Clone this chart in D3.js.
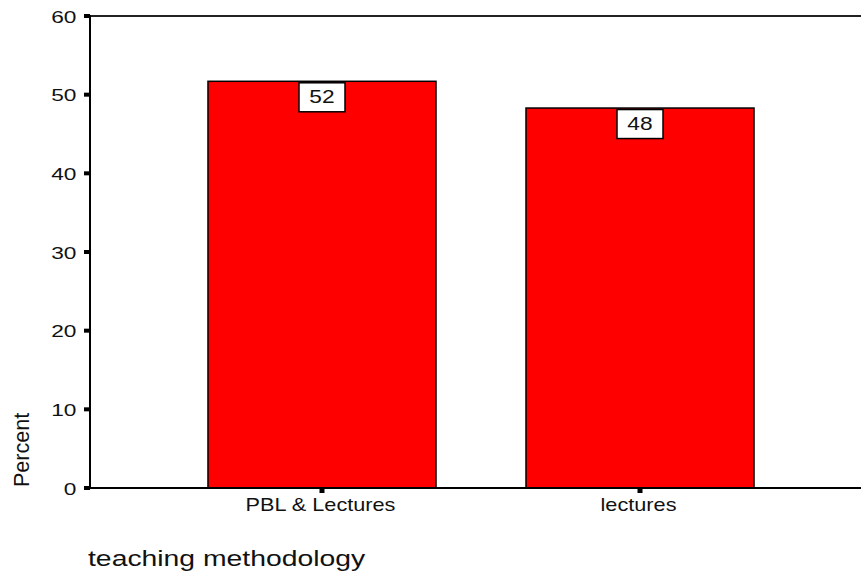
<!DOCTYPE html>
<html>
<head>
<meta charset="utf-8">
<script src="https://cdn.jsdelivr.net/npm/d3@7"></script>
<style>
  html, body { margin: 0; padding: 0; background: #fff; }
  svg { display: block; font-family: "Liberation Sans", Arial, sans-serif; }
</style>
</head>
<body>
<svg id="chart" width="861" height="573"></svg>
<script>
const categories = ["PBL & Lectures", "lectures"];
const percents = [51.7, 48.3];
const valueLabels = ["52", "48"];
const yTicks = [0, 10, 20, 30, 40, 50, 60];
const xTitle = "teaching methodology";
const yTitle = "Percent";

const svg = d3.select("#chart");
const mLeft = 90, mTop = 16, mBottom = 488, mRight = 872;

const y = d3.scaleLinear().domain([0, 60]).range([mBottom, mTop]);
const x = d3.scaleBand().domain(categories).range([mLeft, mRight])
  .paddingInner(0.283).paddingOuter(0.371);

// Top frame line
svg.append("line").attr("x1", mLeft).attr("x2", mRight).attr("y1", mTop).attr("y2", mTop)
  .attr("stroke", "#222").attr("stroke-width", 2);

// Bars
svg.selectAll("rect.bar").data(percents).enter().append("rect")
  .attr("class", "bar")
  .attr("x", (d, i) => x(categories[i]))
  .attr("width", x.bandwidth())
  .attr("y", d => y(d))
  .attr("height", d => y(0) - y(d))
  .attr("fill", "#ff0000")
  .attr("stroke", "#000")
  .attr("stroke-width", 1.5);

// Value label boxes
const boxW = 46, boxH = 29;
const lab = svg.selectAll("g.vlab").data(percents).enter().append("g")
  .attr("class", "vlab")
  .attr("transform", (d, i) => `translate(${x(categories[i]) + x.bandwidth() / 2},${y(d) + 1.5})`);
lab.append("rect").attr("x", -boxW / 2).attr("y", 0).attr("width", boxW).attr("height", boxH)
  .attr("fill", "#fff").attr("stroke", "#000").attr("stroke-width", 1.5);
lab.append("g").attr("transform", "translate(0,20)")
  .append("text").attr("text-anchor", "middle").attr("font-size", 17.5)
  .attr("transform", "scale(1.3,1)")
  .attr("fill", "#111")
  .text((d, i) => valueLabels[i]);

// Y axis line
svg.append("line").attr("x1", mLeft).attr("x2", mLeft).attr("y1", mTop - 1).attr("y2", mBottom + 1)
  .attr("stroke", "#000").attr("stroke-width", 2);
// X axis line
svg.append("line").attr("x1", mLeft).attr("x2", mRight).attr("y1", mBottom).attr("y2", mBottom)
  .attr("stroke", "#000").attr("stroke-width", 2);

// Y ticks
const yt = svg.selectAll("g.ytick").data(yTicks).enter().append("g")
  .attr("class", "ytick").attr("transform", d => `translate(0,${y(d)})`);
yt.append("rect").attr("x", 84).attr("y", -2).attr("width", 6).attr("height", 4).attr("fill", "#000");
yt.append("g").attr("transform", "translate(76.5,6.5)")
  .append("text").attr("text-anchor", "end").attr("font-size", 16)
  .attr("transform", "scale(1.42,1)").attr("fill", "#111")
  .text(d => d);

// X ticks
const xt = svg.selectAll("g.xtick").data(categories).enter().append("g")
  .attr("class", "xtick").attr("transform", d => `translate(${x(d) + x.bandwidth() / 2},${mBottom})`);
xt.append("rect").attr("x", -2.5).attr("y", 0).attr("width", 5).attr("height", 5).attr("fill", "#000");
xt.append("g").attr("transform", "translate(-1.5,23)")
  .append("text").attr("text-anchor", "middle").attr("font-size", 17.5)
  .attr("transform", "scale(1.24,1)").attr("fill", "#111")
  .text(d => d);

// Axis titles
svg.append("g").attr("transform", "translate(88,566)")
  .append("text").attr("font-size", 22.5).attr("transform", "scale(1.26,1)")
  .attr("fill", "#111").text(xTitle);

svg.append("g").attr("transform", "translate(28.5,450) rotate(-90)")
  .append("text").attr("text-anchor", "middle").attr("font-size", 22)
  .attr("transform", "scale(0.98,1)")
  .attr("fill", "#111").text(yTitle);
</script>
</body>
</html>
